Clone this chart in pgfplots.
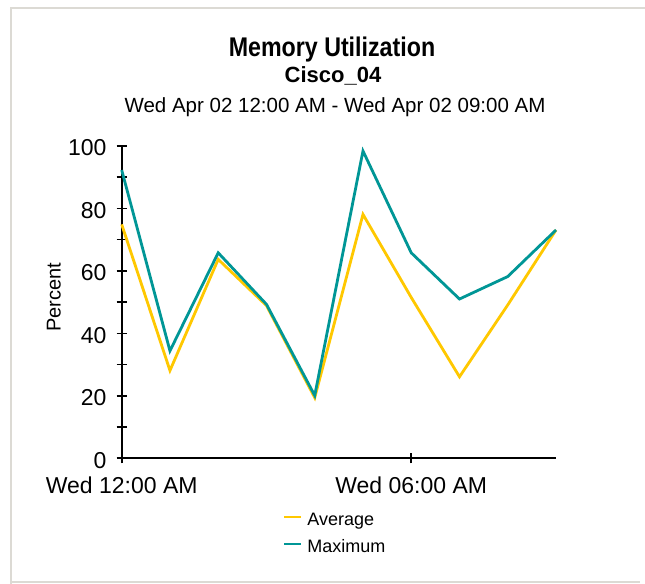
\documentclass[border=0pt]{standalone}
\usepackage{fontspec}
\setmainfont{Liberation Sans}
\usepackage{pgfplots}
\pgfplotsset{compat=1.18}
\definecolor{avgc}{RGB}{255,200,0}
\definecolor{maxc}{RGB}{0,150,150}
\definecolor{framec}{RGB}{220,218,212}
\begin{document}
\begin{tikzpicture}[x=1bp,y=1bp]
\useasboundingbox (0,0) rectangle (645,584);
\fill[white] (0,0) rectangle (645,584);
\draw[framec, line width=2.5bp] (645,576) -- (11,576) -- (11,0);
\draw[framec, line width=2bp] (11,2) -- (640,2);
\node[anchor=base, inner sep=0pt, font=\bfseries\fontsize{27bp}{30bp}\selectfont] at (332,527) {\scalebox{0.86}[1]{Memory Utilization}};
\node[anchor=base, inner sep=0pt, font=\bfseries\fontsize{22bp}{26bp}\selectfont] at (333,501) {Cisco\_04};
\node[anchor=base, inner sep=0pt, font=\fontsize{20.5bp}{24bp}\selectfont] at (335,471) {Wed Apr 02 12:00 AM - Wed Apr 02 09:00 AM};
\begin{axis}[
  at={(121.7bp,125.7bp)}, anchor=south west,
  scale only axis, width=434.3bp, height=312.3bp,
  xmin=0, xmax=9, ymin=0, ymax=100,
  axis x line*=bottom, axis y line*=left,
  axis line style={black, line width=1.8bp, -},
  xtick={0,6}, xticklabels={Wed 12:00 AM, Wed 06:00 AM},
  ytick={0,20,...,100}, minor ytick={10,30,50,70,90},
  tick align=center, major tick length=10bp, minor tick length=10bp,
  every tick/.style={black, line width=1.6bp},
  minor tick style={black, line width=1.6bp},
  ticklabel style={font=\fontsize{23bp}{26bp}\selectfont},
  /pgf/number format/assume math mode=true,
  yticklabel style={inner sep=0pt, xshift=-10bp, yshift=-2bp},
  xticklabel style={inner sep=0pt, anchor=north, yshift=-13bp},
  ylabel={Percent},
  ylabel style={at={(axis description cs:-0.156,0.516)}, anchor=center, font=\fontsize{20bp}{24bp}\selectfont},
  clip=false,
  legend style={at={(axis description cs:0.372,-0.172)}, anchor=north west,
    draw=none, fill=none, inner sep=0pt, row sep=10bp,
    font=\fontsize{18bp}{20bp}\selectfont,
    nodes={inner sep=0pt, text height=13bp, text depth=4bp},
    /tikz/every odd column/.append style={column sep=5bp}},
  legend cell align=left,
  legend image code/.code={\draw[#1, line width=2bp] (0bp,4bp) -- (17bp,4bp);},
]
\addplot[avgc, line width=2.8bp] coordinates {
(0,74.9) (1,28.1) (2,63.7) (3,48.9) (4,19.4) (5,78.1) (6,51.5) (7,26.1) (8,49.1) (9,73.1)};
\addlegendentry{Average}
\addplot[maxc, line width=2.8bp] coordinates {
(0,92.3) (1,34.4) (2,65.8) (3,49.3) (4,20.1) (5,98.4) (6,65.8) (7,51.0) (8,58.2) (9,73.1)};
\addlegendentry{Maximum}
\end{axis}
\end{tikzpicture}
\end{document}
